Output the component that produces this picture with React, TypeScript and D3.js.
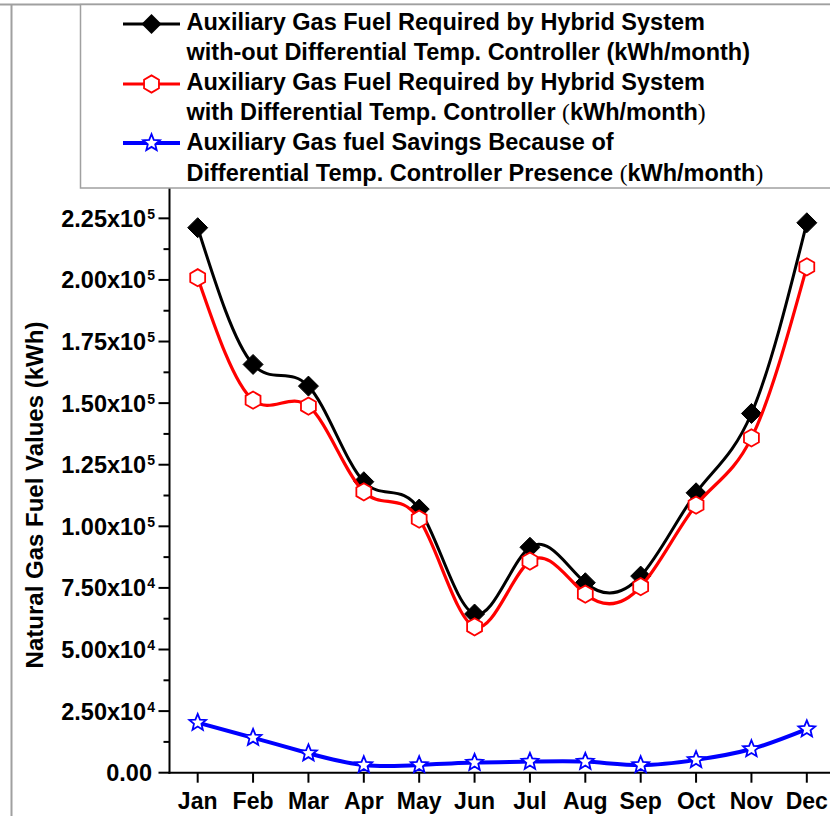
import React from 'react';
import * as d3 from 'd3';

const months = ['Jan', 'Feb', 'Mar', 'Apr', 'May', 'Jun', 'Jul', 'Aug', 'Sep', 'Oct', 'Nov', 'Dec'];
const withoutController = [221200, 165700, 156900, 118100, 107000, 64400, 91500, 77100, 79800, 113600, 145800, 223200];
const withController = [200900, 151200, 148800, 114000, 102900, 59200, 85900, 72500, 75500, 108600, 135900, 205300];
const savings = [20300, 14200, 7900, 3100, 3100, 4100, 4500, 4500, 3100, 5200, 9600, 17700];

const yTickValues = [0, 25000, 50000, 75000, 100000, 125000, 150000, 175000, 200000, 225000];
const yTickMantissas = ['0.00', '2.50', '5.00', '7.50', '1.00', '1.25', '1.50', '1.75', '2.00', '2.25'];
const yTickExponents = ['', '4', '4', '4', '5', '5', '5', '5', '5', '5'];
const yMinorValues = [12500, 37500, 62500, 87500, 112500, 137500, 162500, 187500, 212500];

const legendLines = [
  ['Auxiliary Gas Fuel Required by Hybrid System', 'with-out Differential Temp. Controller (kWh/month)'],
  ['Auxiliary Gas Fuel Required by Hybrid System', 'with Differential Temp. Controller '],
  ['Auxiliary Gas fuel Savings Because of', 'Differential Temp. Controller Presence '],
];

const FONT = '"Liberation Sans", Arial, sans-serif';
const SERIF = '"Liberation Serif", "Times New Roman", serif';

const x = d3.scaleLinear().domain([-0.5, 11.5]).range([170, 834.5]);
const y = d3.scaleLinear().domain([0, 236500]).range([772.7, 190]);

const line = (vals: number[]) =>
  d3
    .line<number>()
    .x((_, i) => x(i))
    .y((d) => y(d))
    .curve(d3.curveNatural)(vals) as string;

function diamond(cx: number, cy: number, r: number) {
  return `M${cx},${cy - r}L${cx + r},${cy}L${cx},${cy + r}L${cx - r},${cy}Z`;
}
function hexagon(cx: number, cy: number, r: number) {
  const pts = d3.range(6).map((k) => {
    const a = ((-90 + k * 60) * Math.PI) / 180;
    return [cx + r * Math.cos(a), cy + r * Math.sin(a)];
  });
  return 'M' + pts.map((p) => p.join(',')).join('L') + 'Z';
}
function star(cx: number, cy: number, R: number, r: number) {
  const pts = d3.range(10).map((k) => {
    const a = ((-90 + k * 36) * Math.PI) / 180;
    const rad = k % 2 === 0 ? R : r;
    return [cx + rad * Math.cos(a), cy + rad * Math.sin(a)];
  });
  return 'M' + pts.map((p) => p.join(',')).join('L') + 'Z';
}

export default function App() {
  const axisX = 169.5;
  const axisY = 772.7;
  return (
    <svg
      width={830}
      height={816}
      style={{ position: 'absolute', left: 0, top: 0, background: '#fff' }}
      fontFamily={FONT}
    >
      <rect x={0} y={0} width={830} height={816} fill="#fff" />
      {/* outer frame */}
      <line x1={0} y1={4.5} x2={830} y2={4.5} stroke="#a0a0a0" strokeWidth={2} />
      <line x1={11.5} y1={4.5} x2={11.5} y2={816} stroke="#a0a0a0" strokeWidth={2} />

      {/* axes */}
      <line x1={axisX} y1={188} x2={axisX} y2={axisY + 1} stroke="#000" strokeWidth={2} />
      <line x1={axisX - 1} y1={axisY} x2={830} y2={axisY} stroke="#000" strokeWidth={2} />
      {yTickValues.map((v, i) => (
        <g key={'yt' + i}>
          <line x1={axisX - 11} y1={y(v)} x2={axisX} y2={y(v)} stroke="#000" strokeWidth={2} />
          <text
            x={yTickExponents[i] ? 155 : 152}
            y={y(v) + 8.5}
            textAnchor="end"
            fontSize={23.5}
            fontWeight="bold"
          >
            {yTickMantissas[i]}
            {yTickExponents[i] ? 'x10' : ''}
            {yTickExponents[i] ? (
              <tspan fontSize={14} dy={-8} dx={1}>
                {yTickExponents[i]}
              </tspan>
            ) : null}
          </text>
        </g>
      ))}
      {yMinorValues.map((v, i) => (
        <line key={'ym' + i} x1={axisX - 6} y1={y(v)} x2={axisX} y2={y(v)} stroke="#000" strokeWidth={2} />
      ))}
      {months.map((m, i) => (
        <g key={'xt' + i}>
          <line x1={x(i)} y1={axisY} x2={x(i)} y2={axisY + 10} stroke="#000" strokeWidth={2} />
          <text x={x(i)} y={809} textAnchor="middle" fontSize={23} fontWeight="bold">
            {m}
          </text>
        </g>
      ))}
      <text
        transform="translate(42.5,495) rotate(-90)"
        textAnchor="middle"
        fontSize={24}
        fontWeight="bold"
      >
        Natural Gas Fuel Values (kWh)
      </text>

      {/* series: without controller */}
      <path d={line(withoutController)} fill="none" stroke="#000" strokeWidth={3} />
      {withoutController.map((v, i) => (
        <path key={'b' + i} d={diamond(x(i), y(v), 10)} fill="#000" stroke="#000" strokeWidth={1} />
      ))}
      {/* with controller */}
      <path d={line(withController)} fill="none" stroke="#ff0000" strokeWidth={3.2} />
      {withController.map((v, i) => (
        <path key={'r' + i} d={hexagon(x(i), y(v), 8.6)} fill="#fff" stroke="#ff0000" strokeWidth={1.8} />
      ))}
      {/* savings */}
      <path d={line(savings)} fill="none" stroke="#0000ff" strokeWidth={4} />
      {savings.map((v, i) => (
        <path key={'s' + i} d={star(x(i), y(v), 8.8, 3.9)} fill="#fff" stroke="#0000ff" strokeWidth={1.8} />
      ))}

      {/* legend */}
      <rect x={80.5} y={4.5} width={800} height={183.5} fill="#fff" stroke="#a0a0a0" strokeWidth={1.5} />
      <line x1={123} y1={24} x2={180} y2={24} stroke="#000" strokeWidth={3} />
      <path d={diamond(151.5, 24, 10)} fill="#000" />
      <line x1={123} y1={84} x2={180} y2={84} stroke="#ff0000" strokeWidth={3.2} />
      <path d={hexagon(151.5, 84, 8.6)} fill="#fff" stroke="#ff0000" strokeWidth={1.8} />
      <line x1={123} y1={143} x2={180} y2={143} stroke="#0000ff" strokeWidth={4} />
      <path d={star(151.5, 143, 8.8, 3.9)} fill="#fff" stroke="#0000ff" strokeWidth={1.8} />
      {legendLines.map((pair, k) => (
        <g key={'lg' + k} fontSize={23.5} fontWeight="bold">
          <text x={186.5} y={29.5 + k * 60.3}>
            {pair[0]}
          </text>
          <text x={186.5} y={60 + k * 60.3}>
            {pair[1]}
            {k > 0 ? (
              <>
                <tspan fontFamily={SERIF} fontWeight="normal">(</tspan>
                <tspan>kWh/month</tspan>
                <tspan fontFamily={SERIF} fontWeight="normal">)</tspan>
              </>
            ) : null}
          </text>
        </g>
      ))}
    </svg>
  );
}
